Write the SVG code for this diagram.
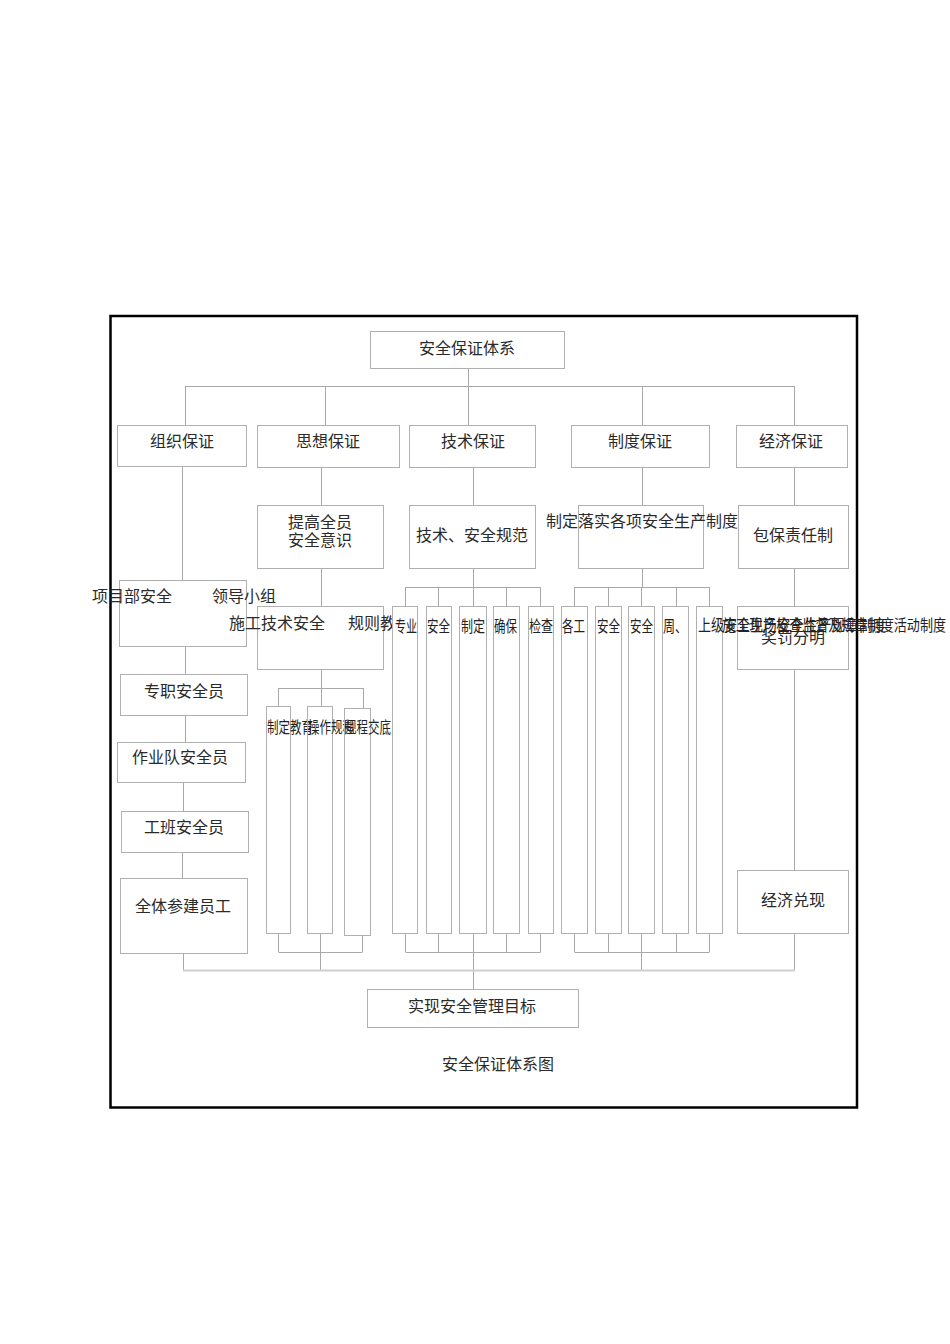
<svg xmlns="http://www.w3.org/2000/svg" width="950" height="1344" viewBox="0 0 950 1344">
<style>
.b{fill:#fff;stroke:#b0b0b0;stroke-width:1}
.n{fill:none;stroke:#b0b0b0;stroke-width:1}
.c{fill:none;stroke:#a8a8a8;stroke-width:1}
.t{font-family:"Noto Sans CJK SC","Liberation Sans",sans-serif;font-size:16px;fill:#2a2a2a}
.m{text-anchor:middle}
.s{font-family:"Noto Sans CJK SC","Liberation Sans",sans-serif;font-size:16px;fill:#222}
</style>
<rect x="0" y="0" width="950" height="1344" fill="#fff"/>
<rect x="110.5" y="316" width="746.5" height="791.5" fill="none" stroke="#000" stroke-width="2.5"/>

<g id="connectors">
<path class="c" d="M468.5 368V425M185.5 386.5H794.5M185.5 386V425M325.5 386V425M642.5 386V425M794.5 386V425"/>
<path class="c" d="M182.5 467V580M185.5 646V674M185.5 715V742M183.5 782V811M182.5 852V878M183.5 953V970"/>
<path class="c" d="M321.5 468V505M321.5 568V606M321.5 669V688M278.5 688.5H363.5M278.5 688V706M321.5 688V706M363.5 688V708"/>
<path class="c" d="M278.5 933V952M320.5 933V970M362.5 935V952M278.5 952.5H362.5"/>
<path class="c" d="M473.5 468V505M473.5 568V587M405.5 587.5H540.5M405.5 587V606M438.5 587V606M473.5 587V606M506.5 587V606M540.5 587V606"/>
<path class="c" d="M405.5 933V952M438.5 933V952M506.5 933V952M540.5 933V952M405.5 952.5H540.5M473.5 933V989"/>
<path class="c" d="M642.5 468V505M642.5 568V587M574.5 587.5H709.5M574.5 587V606M608.5 587V606M641.5 587V606M676.5 587V606M709.5 587V606"/>
<path class="c" d="M574.5 933V952M608.5 933V952M676.5 933V952M709.5 933V952M574.5 952.5H709.5M641.5 933V970"/>
<path class="c" d="M794.5 468V505M794.5 568V606M794.5 669V870M794.5 933V970"/>
<path fill="none" stroke="#cfcfcf" stroke-width="2" d="M183 970.5H795"/>
</g>

<g id="n-top"><rect class="b" x="370.5" y="331.5" width="194" height="37"/><text class="t m" x="467" y="354">安全保证体系</text></g>
<g id="n-zuzhi"><rect class="b" x="117.5" y="425.5" width="129" height="41"/><text class="t m" x="182" y="447">组织保证</text></g>
<g id="n-sixiang"><rect class="b" x="257.5" y="425.5" width="142" height="42"/><text class="t m" x="328" y="447">思想保证</text></g>
<g id="n-jishu"><rect class="b" x="409.5" y="425.5" width="126" height="42"/><text class="t m" x="473" y="447">技术保证</text></g>
<g id="n-zhidu"><rect class="b" x="571.5" y="425.5" width="138" height="42"/><text class="t m" x="640" y="447">制度保证</text></g>
<g id="n-jingji"><rect class="b" x="736.5" y="425.5" width="111" height="42"/><text class="t m" x="791" y="447">经济保证</text></g>

<g id="n-tigao"><rect class="b" x="257.5" y="505.5" width="126" height="63"/><text class="t m" x="320" y="528">提高全员</text><text class="t m" x="320" y="546">安全意识</text></g>
<g id="n-guifan"><rect class="b" x="409.5" y="505.5" width="126" height="63"/><text class="t m" x="472" y="541">技术、安全规范</text></g>
<g id="n-luoshi"><rect class="b" x="578.5" y="505.5" width="125" height="63"/><text class="t" x="546" y="527">制定落实各项安全生产制度</text></g>
<g id="n-baobao"><rect class="b" x="738.5" y="505.5" width="110" height="63"/><text class="t m" x="793" y="541">包保责任制</text></g>

<g id="n-xiangmu"><rect class="b" x="119.5" y="580.5" width="127" height="66"/><text class="t" x="92" y="602">项目部安全</text><text class="t" x="212" y="602">领导小组</text></g>
<g id="n-zhuanzhi"><rect class="b" x="120.5" y="674.5" width="127" height="41"/><text class="t m" x="184" y="697">专职安全员</text></g>
<g id="n-zuoye"><rect class="b" x="117.5" y="742.5" width="128" height="40"/><text class="t m" x="180" y="763">作业队安全员</text></g>
<g id="n-gongban"><rect class="b" x="121.5" y="811.5" width="127" height="41"/><text class="t m" x="184" y="833">工班安全员</text></g>
<g id="n-quanti"><rect class="b" x="120.5" y="878.5" width="127" height="75"/><text class="t m" x="183" y="912">全体参建员工</text></g>

<g id="n-shigong"><rect class="b" x="257.5" y="606.5" width="126" height="63"/><text class="t" x="229" y="629">施工技术安全</text><text class="t" x="348" y="629">规则教</text></g>
<g id="n-sub1"><rect class="n" x="266.5" y="706.5" width="24" height="227"/><text class="s" x="267" y="733" textLength="46" lengthAdjust="spacingAndGlyphs">制定教育</text></g>
<g id="n-sub2"><rect class="n" x="307.5" y="706.5" width="25" height="227"/><text class="s" x="308" y="733" textLength="46" lengthAdjust="spacingAndGlyphs">操作规程</text></g>
<g id="n-sub3"><rect class="n" x="344.5" y="708.5" width="26" height="227"/><text class="s" x="345" y="733" textLength="46" lengthAdjust="spacingAndGlyphs">规程交底</text></g>

<g id="n-j1"><rect class="b" x="392.5" y="606.5" width="25" height="327"/><text class="s" x="395" y="632" textLength="22" lengthAdjust="spacingAndGlyphs">专业</text></g>
<g id="n-j2"><rect class="b" x="426.5" y="606.5" width="25" height="327"/><text class="s" x="427" y="632" textLength="23" lengthAdjust="spacingAndGlyphs">安全</text></g>
<g id="n-j3"><rect class="b" x="459.5" y="606.5" width="27" height="327"/><text class="s" x="461" y="632" textLength="24" lengthAdjust="spacingAndGlyphs">制定</text></g>
<g id="n-j4"><rect class="b" x="493.5" y="606.5" width="26" height="327"/><text class="s" x="494" y="632" textLength="23" lengthAdjust="spacingAndGlyphs">确保</text></g>
<g id="n-j5"><rect class="b" x="528.5" y="606.5" width="25" height="327"/><text class="s" x="529" y="632" textLength="24" lengthAdjust="spacingAndGlyphs">检查</text></g>

<g id="n-z1"><rect class="b" x="561.5" y="606.5" width="26" height="327"/><text class="s" x="562" y="632" textLength="23" lengthAdjust="spacingAndGlyphs">各工</text></g>
<g id="n-z2"><rect class="b" x="595.5" y="606.5" width="26" height="327"/><text class="s" x="597" y="632" textLength="23" lengthAdjust="spacingAndGlyphs">安全</text></g>
<g id="n-z3"><rect class="b" x="628.5" y="606.5" width="26" height="327"/><text class="s" x="630" y="632" textLength="23" lengthAdjust="spacingAndGlyphs">安全</text></g>
<g id="n-z4"><rect class="b" x="662.5" y="606.5" width="26" height="327"/><text class="s" x="663" y="632" textLength="24" lengthAdjust="spacingAndGlyphs">周、</text></g>
<g id="n-z5"><rect class="b" x="696.5" y="606.5" width="26" height="327"/></g>

<g id="n-jiangfa"><rect class="n" x="737.5" y="606.5" width="111" height="63"/><text class="t m" x="793" y="643">奖罚分明</text></g>
<text class="s" x="698" y="631" textLength="248" lengthAdjust="spacingAndGlyphs">上级安全生产检查监督及规章制度活动制度</text>
<text class="s" x="722" y="631" textLength="164" lengthAdjust="spacingAndGlyphs">施工现场安全生产规章制度</text>

<g id="n-duixian"><rect class="b" x="737.5" y="870.5" width="111" height="63"/><text class="t m" x="793" y="906">经济兑现</text></g>
<g id="n-mubiao"><rect class="b" x="367.5" y="989.5" width="211" height="38"/><text class="t m" x="472" y="1012">实现安全管理目标</text></g>
<text class="t m" x="498" y="1070">安全保证体系图</text>
</svg>
